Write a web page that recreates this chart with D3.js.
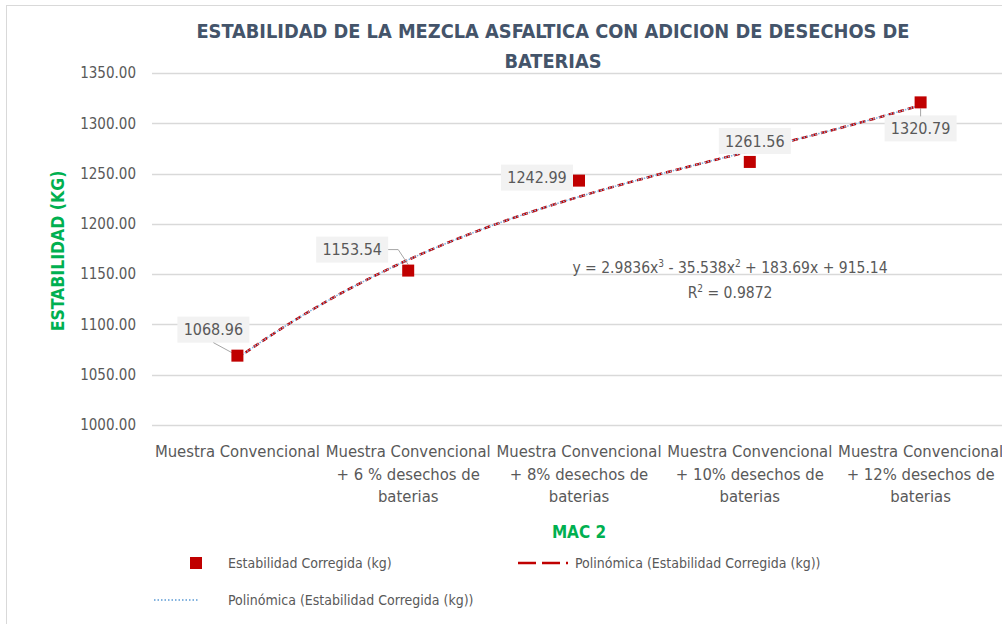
<!DOCTYPE html>
<html>
<head>
<meta charset="utf-8">
<script src="https://cdn.jsdelivr.net/npm/d3@7"></script>
<style>
  body { margin: 0; background: #fff; }
  svg text { font-family: "Liberation Sans Narrow", "DejaVu Sans Condensed", "Open Sans", sans-serif; }
</style>
</head>
<body>
<div id="chart"></div>
<script>
// data
var categories = [
  ["Muestra Convencional"],
  ["Muestra Convencional", "+ 6 % desechos de", "baterias"],
  ["Muestra Convencional", "+ 8% desechos de", "baterias"],
  ["Muestra Convencional", "+ 10% desechos de", "baterias"],
  ["Muestra Convencional", "+ 12% desechos de", "baterias"]
];
var estabilidad = [1068.96, 1153.54, 1242.99, 1261.56, 1320.79];
var yTicks = [1000, 1050, 1100, 1150, 1200, 1250, 1300, 1350];
// trendline coefficients shown on the chart: a x^3 + b x^2 + c x + d
var polyCoef = [2.9836, -35.538, 183.69, 915.14];
var rSquared = 0.9872;

var width = 1002, height = 624;
var margin = {top: 73, right: -4, bottom: 199, left: 152};

var svg = d3.select("#chart").append("svg")
    .attr("width", width)
    .attr("height", height);

// chart border
svg.append("rect")
    .attr("x", 6.5).attr("y", 5.5)
    .attr("width", width).attr("height", height)
    .attr("fill", "none")
    .attr("stroke", "#d9d9d9");

var x = d3.scaleBand()
    .domain(d3.range(categories.length))
    .range([margin.left, width - margin.right]);

var y = d3.scaleLinear()
    .domain([1000, 1350])
    .range([height - margin.bottom, margin.top]);

// gridlines
svg.append("g")
  .selectAll("line")
  .data(yTicks)
  .enter().append("line")
    .attr("x1", margin.left)
    .attr("x2", width)
    .attr("y1", function(d) { return Math.round(y(d)) + 0.5; })
    .attr("y2", function(d) { return Math.round(y(d)) + 0.5; })
    .attr("stroke", "#d9d9d9")
    .attr("stroke-width", 1.3);

// y axis labels
var yAxis = d3.axisLeft(y)
    .tickValues(yTicks)
    .tickSize(0)
    .tickPadding(16)
    .tickFormat(d3.format(".2f"));

svg.append("g")
    .attr("transform", "translate(" + margin.left + ",0)")
    .call(yAxis)
    .call(function(g) { g.select(".domain").remove(); })
    .selectAll("text")
    .attr("fill", "#595959")
    .style("font-size", "15px");

// x axis labels
var xAxis = d3.axisBottom(x).tickSize(0).tickFormat("");
var gx = svg.append("g")
    .attr("transform", "translate(0," + (height - margin.bottom) + ")")
    .call(xAxis);
gx.select(".domain").remove();
gx.selectAll(".tick").each(function(d) {
  var t = d3.select(this).append("text")
      .attr("fill", "#595959")
      .attr("text-anchor", "middle")
      .style("font-size", "16.5px");
  categories[d].forEach(function(line, i) {
    t.append("tspan")
      .attr("x", 0)
      .attr("y", 32 + i * 22.5)
      .text(line);
  });
});

// titles
var title = svg.append("text")
    .attr("text-anchor", "middle")
    .attr("fill", "#44546a")
    .style("font-size", "19.8px")
    .style("font-weight", "bold");
title.append("tspan").attr("x", 553).attr("y", 38).text("ESTABILIDAD DE LA MEZCLA ASFALTICA  CON ADICION DE DESECHOS DE");
title.append("tspan").attr("x", 553).attr("y", 68).text("BATERIAS");

svg.append("text")
    .attr("transform", "translate(64,251) rotate(-90)")
    .attr("text-anchor", "middle")
    .attr("fill", "#00b050")
    .style("font-size", "17.5px")
    .style("font-weight", "bold")
    .text("ESTABILIDAD (KG)");

svg.append("text")
    .attr("x", 579)
    .attr("y", 538)
    .attr("text-anchor", "middle")
    .attr("fill", "#00b050")
    .style("font-size", "17px")
    .style("font-weight", "bold")
    .text("MAC 2");

// polynomial trendline sampled along category index (1..n)
function poly(t) {
  return polyCoef[0] * t * t * t + polyCoef[1] * t * t + polyCoef[2] * t + polyCoef[3];
}
var xIdx = d3.scaleLinear()
    .domain([1, categories.length])
    .range([x(0) + x.bandwidth() / 2, x(categories.length - 1) + x.bandwidth() / 2]);
var trend = d3.range(1, categories.length + 0.001, 0.05);
var line = d3.line()
    .x(function(t) { return xIdx(t); })
    .y(function(t) { return y(poly(t)); })
    .curve(d3.curveMonotoneX);

svg.append("path")
    .datum(trend)
    .attr("d", line)
    .attr("fill", "none")
    .attr("stroke", "#c00000")
    .attr("stroke-width", 2.5)
    .attr("stroke-dasharray", "6,4");

svg.append("path")
    .datum(trend)
    .attr("d", line)
    .attr("fill", "none")
    .attr("stroke", "#7fb3e0")
    .attr("stroke-width", 1.5)
    .attr("stroke-dasharray", "1.5,1.5");

// equation
var eq = svg.append("text")
    .attr("x", 730).attr("y", 273)
    .attr("text-anchor", "middle")
    .attr("fill", "#595959")
    .style("font-size", "15.5px");
eq.append("tspan").text("y = " + polyCoef[0] + "x");
eq.append("tspan").attr("dy", -6).style("font-size", "10px").text("3");
eq.append("tspan").attr("dy", 6).text(" - " + Math.abs(polyCoef[1]) + "x");
eq.append("tspan").attr("dy", -6).style("font-size", "10px").text("2");
eq.append("tspan").attr("dy", 6).text(" + " + polyCoef[2] + "x + " + polyCoef[3]);

var r2 = svg.append("text")
    .attr("x", 730).attr("y", 298)
    .attr("text-anchor", "middle")
    .attr("fill", "#595959")
    .style("font-size", "15.5px");
r2.append("tspan").text("R");
r2.append("tspan").attr("dy", -6).style("font-size", "10px").text("2");
r2.append("tspan").attr("dy", 6).text(" = " + rSquared);

// data labels with leader lines (offsets relative to point)
var labelOffsets = [[-24, -26], [-56, -21], [-42, -3], [5, -21], [0, 26]];
var cx = function(i) { return x(i) + x.bandwidth() / 2; };

var labels = svg.append("g").selectAll("g")
    .data(estabilidad)
    .enter().append("g")
    .attr("transform", function(d, i) {
      return "translate(" + (cx(i) + labelOffsets[i][0]) + "," + (y(d) + labelOffsets[i][1]) + ")";
    });

// leader lines
svg.append("path")
    .attr("d", "M" + (cx(0) - 24) + "," + (y(estabilidad[0]) - 13) + "L" + cx(0) + "," + y(estabilidad[0]))
    .attr("stroke", "#a6a6a6").attr("fill", "none");
svg.append("path")
    .attr("d", "M" + (cx(1) - 20) + "," + (y(estabilidad[1]) - 21) + "h10L" + cx(1) + "," + (y(estabilidad[1]) - 6))
    .attr("stroke", "#a6a6a6").attr("fill", "none");
svg.append("path")
    .attr("d", "M" + cx(4) + "," + (y(estabilidad[4]) + 6) + "v8")
    .attr("stroke", "#a6a6a6").attr("fill", "none");

labels.append("rect")
    .attr("x", -36).attr("y", -13)
    .attr("width", 72).attr("height", 26)
    .attr("fill", "#f2f2f2");

labels.append("text")
    .attr("text-anchor", "middle")
    .attr("dy", "0.35em")
    .attr("fill", "#595959")
    .style("font-size", "16px")
    .text(function(d) { return d3.format(".2f")(d); });

// markers
svg.append("g").selectAll("rect")
    .data(estabilidad)
    .enter().append("rect")
    .attr("x", function(d, i) { return cx(i) - 6; })
    .attr("y", function(d) { return y(d) - 6; })
    .attr("width", 12)
    .attr("height", 12)
    .attr("fill", "#c00000");

// legend
var lg = svg.append("g").style("font-size", "14px");
lg.append("rect").attr("x", 190).attr("y", 557).attr("width", 12).attr("height", 12).attr("fill", "#c00000");
lg.append("text").attr("x", 228).attr("y", 568).attr("fill", "#595959").text("Estabilidad Corregida (kg)");
lg.append("line").attr("x1", 518).attr("x2", 568).attr("y1", 563).attr("y2", 563)
    .attr("stroke", "#c00000").attr("stroke-width", 2.5).attr("stroke-dasharray", "18,6");
lg.append("text").attr("x", 575).attr("y", 568).attr("fill", "#595959").text("Polinómica (Estabilidad Corregida (kg))");
lg.append("line").attr("x1", 154).attr("x2", 198).attr("y1", 600).attr("y2", 600)
    .attr("stroke", "#5b9bd5").attr("stroke-width", 1.5).attr("stroke-dasharray", "1.5,2");
lg.append("text").attr("x", 228).attr("y", 605).attr("fill", "#595959").text("Polinómica (Estabilidad Corregida (kg))");
</script>
</body>
</html>
